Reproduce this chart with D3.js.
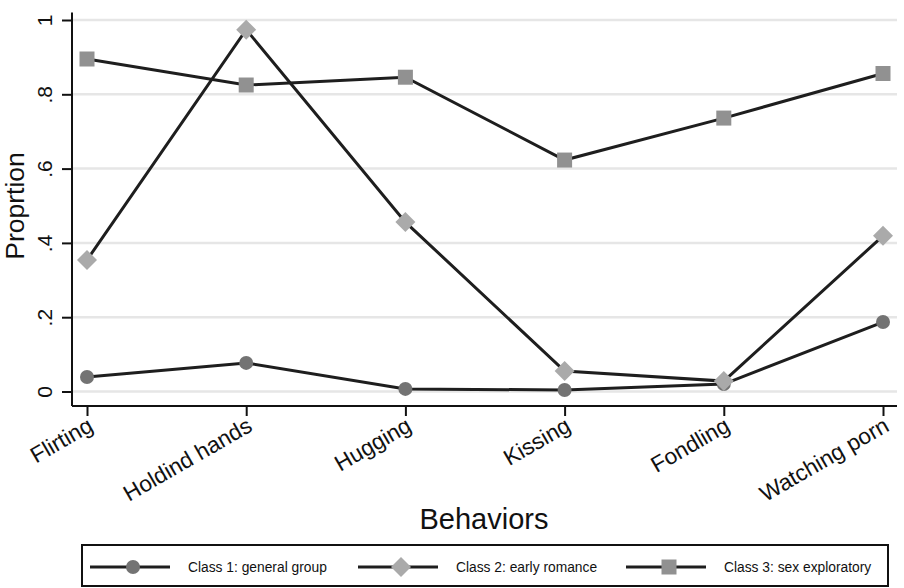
<!DOCTYPE html>
<html><head><meta charset="utf-8">
<script src="https://cdn.jsdelivr.net/npm/d3@7"></script>
<style>body{margin:0;background:#fff}svg{display:block;font-family:"Liberation Sans",Arial,sans-serif}</style>
</head><body><svg id="c" width="904" height="588"></svg>
<script>
const categories = ["Flirting","Holdind hands","Hugging","Kissing","Fondling","Watching porn"];
const class1 = [0.039,0.077,0.007,0.004,0.020,0.187];
const class2 = [0.354,0.974,0.456,0.055,0.028,0.419];
const class3 = [0.895,0.825,0.846,0.623,0.736,0.856];
const yTicks = [0,0.2,0.4,0.6,0.8,1];
const yTickLabels = ["0",".2",".4",".6",".8","1"];
const seriesNames = ["Class 1: general group","Class 2: early romance","Class 3: sex exploratory"];

const svg = d3.select("#c");
const x = d3.scalePoint().domain(categories).range([87, 883]);
const y = d3.scaleLinear().domain([0,1]).range([391.5, 20]);
const axL = 72, axB = 406, plotR = 897;

// gridlines
svg.append("g").selectAll("line").data(yTicks).join("line")
  .attr("x1", axL).attr("x2", plotR).attr("y1", d=>y(d)).attr("y2", d=>y(d))
  .attr("stroke", "#e6e6e6").attr("stroke-width", 2.5);

// y axis
const ya = svg.append("g").attr("transform", `translate(${axL},0)`)
  .call(d3.axisLeft(y).tickValues(yTicks).tickSize(10).tickFormat((d,i)=>yTickLabels[i]));
ya.select(".domain").attr("d", `M0,${y(1.02)}V${axB}`).attr("stroke","#111").attr("stroke-width",2);
ya.selectAll(".tick line").attr("stroke","#111").attr("stroke-width",2);
ya.selectAll(".tick text").attr("font-size", 21).attr("fill","#111")
  .attr("x", null).attr("y", null).attr("dy","0")
  .attr("transform","translate(-20,0) rotate(-90)").attr("text-anchor","middle");

// x axis
const xa = svg.append("g").attr("transform", `translate(0,${axB})`)
  .call(d3.axisBottom(x).tickSize(10).tickSizeOuter(0));
xa.select(".domain").attr("d", `M${axL},0H${plotR}`).attr("stroke","#111").attr("stroke-width",2);
xa.selectAll(".tick line").attr("stroke","#111").attr("stroke-width",2);
xa.selectAll(".tick text").attr("font-size", 22.5).attr("fill","#111")
  .attr("text-anchor","end").attr("y",0).attr("dy","0")
  .attr("transform","translate(7,24) rotate(-30)");

// axis titles
svg.append("text").attr("transform","translate(24,206) rotate(-90)").attr("text-anchor","middle")
  .attr("font-size",26.5).attr("fill","#111").text("Proprtion");
svg.append("text").attr("x",484).attr("y",529).attr("text-anchor","middle")
  .attr("font-size",29).attr("fill","#111").text("Behaviors");

const series = [class1, class2, class3];
const colors = ["#737373","#aaaaaa","#919191"];
const shapes = ["circle","diamond","square"];
function marker(g, shape, cx, cy, col){
  if(shape==="circle") g.append("circle").attr("cx",cx).attr("cy",cy).attr("r",7).attr("fill",col);
  else if(shape==="diamond") g.append("path").attr("d",`M${cx},${cy-10}L${cx+10},${cy}L${cx},${cy+10}L${cx-10},${cy}Z`).attr("fill",col);
  else g.append("rect").attr("x",cx-7.5).attr("y",cy-7.5).attr("width",15).attr("height",15).attr("fill",col);
}
const line = d3.line().x((d,i)=>x(categories[i])).y(d=>y(d));
series.forEach((s,k)=>{
  svg.append("path").attr("d", line(s)).attr("fill","none").attr("stroke","#1e1e1e").attr("stroke-width",3);
});
series.forEach((s,k)=>{
  const g = svg.append("g");
  s.forEach((v,i)=>marker(g, shapes[k], x(categories[i]), y(v), colors[k]));
});

// legend
svg.append("rect").attr("x",82).attr("y",545).attr("width",806).attr("height",41)
  .attr("fill","none").attr("stroke","#111").attr("stroke-width",2);
const lx = [90, 358, 626];
seriesNames.forEach((n,k)=>{
  const g = svg.append("g");
  g.append("line").attr("x1",lx[k]).attr("x2",lx[k]+80).attr("y1",567).attr("y2",567).attr("stroke","#1e1e1e").attr("stroke-width",3);
  marker(g, shapes[k], lx[k]+43, 567, colors[k]);
  g.append("text").attr("x",lx[k]+98).attr("y",572).attr("font-size",13.8).attr("fill","#111").text(n);
});
</script></body></html>
